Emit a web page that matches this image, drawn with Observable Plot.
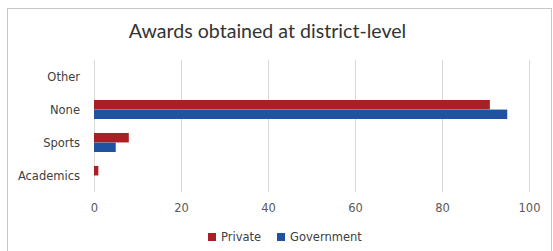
<!DOCTYPE html>
<html>
<head>
<meta charset="utf-8">
<script src="https://cdn.jsdelivr.net/npm/d3@7"></script>
<script src="https://cdn.jsdelivr.net/npm/@observablehq/plot@0.6"></script>
<style>
  html, body { margin: 0; padding: 0; background: #fff; }
  #wrap { position: relative; width: 553px; height: 251px; overflow: hidden; font-family: "DejaVu Sans", sans-serif; }
  #frame { position: absolute; left: 7px; top: 8px; width: 545px; height: 270px; border: 1px solid #c6c6c6; box-sizing: border-box; }
  #title { position: absolute; left: 0; width: 535px; top: 19px; text-align: center; font-family: Lato, sans-serif; font-size: 19.6px; color: #333; white-space: nowrap; }
  #chart { position: absolute; left: 0; top: 55px; }
  #chart svg text { font-family: "DejaVu Sans", sans-serif !important; font-size: 11.5px !important; }
  #legend { position: absolute; top: 230px; left: 208px; font-size: 11.5px; color: #404040; white-space: nowrap; }
  #legend span.sw { display: inline-block; width: 8px; height: 8px; margin-right: 5px; vertical-align: 0px; }
  #legend span.item { margin-right: 16px; }
</style>
</head>
<body>
<div id="wrap">
  <div id="frame"></div>
  <div id="title">Awards obtained at district-level</div>
  <div id="chart"></div>
  <div id="legend"></div>
</div>
<script>
const categories = ["Other", "None", "Sports", "Academics"];
const seriesNames = ["Private", "Government"];
const privateValues = [0, 91, 8, 1];
const governmentValues = [0, 95, 5, 0];
const xTicks = [0, 20, 40, 60, 80, 100];
const colors = ["#A81F24", "#2151A1"];

const rows = categories.map((c, i) => ({category: c, private: privateValues[i], government: governmentValues[i]}));

const step = 33, pInner = 0.42;
const half = step * (1 - pInner) / 2;

const chart = Plot.plot({
  width: 553,
  height: 167,
  marginLeft: 94,
  marginRight: 24,
  marginTop: 5,
  marginBottom: 30,
  style: {fontFamily: "DejaVu Sans, sans-serif", fontSize: "11.5px", background: "transparent"},
  x: {domain: [0, 100], label: null},
  y: {domain: categories, paddingInner: pInner, paddingOuter: pInner / 2, label: null},
  marks: [
    Plot.gridX(xTicks, {stroke: "#d9d9d9", strokeOpacity: 1}),
    Plot.barX(rows, {x: "private", y: "category", fill: colors[0], insetBottom: half}),
    Plot.barX(rows, {x: "government", y: "category", fill: colors[1], insetTop: half}),
    Plot.axisX({ticks: xTicks, tickSize: 0, tickPadding: 11, color: "#595959", label: null}),
    Plot.axisY({tickSize: 0, tickPadding: 14.5, color: "#404040", label: null})
  ]
});
document.getElementById("chart").appendChild(chart);

const legend = document.getElementById("legend");
seriesNames.forEach((name, i) => {
  const item = document.createElement("span");
  item.className = "item";
  const sw = document.createElement("span");
  sw.className = "sw";
  sw.style.background = colors[i];
  item.appendChild(sw);
  item.appendChild(document.createTextNode(name));
  legend.appendChild(item);
});
</script>
</body>
</html>
